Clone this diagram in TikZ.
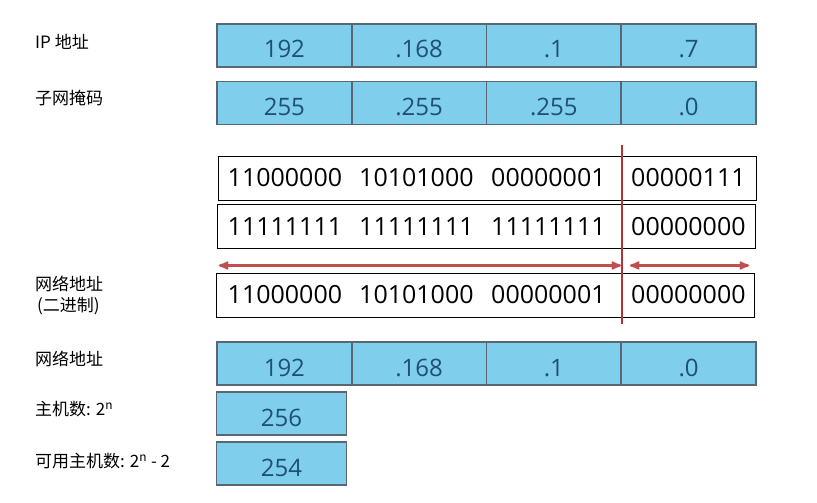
\documentclass[tikz,border=0pt]{standalone}
\usepackage{fontspec}
\setmainfont{Open Sans}
\newfontfamily\cjk{Noto Sans CJK SC}
\usepackage{xcolor}
\usepackage{tikz}
\usetikzlibrary{arrows}
\usetikzlibrary{positioning}

\definecolor{cellblue}{RGB}{126,206,236}
\definecolor{cellline}{RGB}{90,102,115}
\definecolor{celltext}{RGB}{31,78,121}
\definecolor{cutred}{RGB}{176,52,52}
\definecolor{spanred}{RGB}{192,80,77}

\begin{document}
\begin{tikzpicture}[x=1pt,y=-1pt,>=stealth',node distance=134.75pt]
 \tikzstyle{cell}=[draw=cellline, line width=1.6pt, fill=cellblue, text=celltext, minimum width=134.75pt, minimum height=43pt, inner sep=0pt, text height=25pt, text depth=0pt, font=\fontsize{24}{24}\selectfont]
 \tikzstyle{bits}=[draw, line width=0.9pt, minimum width=538pt, minimum height=44pt, inner sep=0pt]
 \tikzstyle{bin}=[anchor=west, inner sep=0pt, font=\fontsize{25}{25}\selectfont]
 \tikzstyle{lbl}=[anchor=west, inner sep=0pt, align=left, font=\cjk\fontsize{17}{21}\selectfont]
 \useasboundingbox (0,0) rectangle (817,503);
 % labels
 \node[lbl] (l ip)   at (35,42)  {IP 地址};
 \node[lbl] (l mask) at (35,98)  {子网掩码};
 \node[lbl] (l bin)  at (35,295) {网络地址\\\hspace{2pt}(二进制)};
 \node[lbl] (l net)  at (35,359) {网络地址};
 \node[lbl] (l host) at (35,409) {主机数: 2\textsuperscript{n}};
 \node[lbl] (l use)  at (35,461) {可用主机数: 2\textsuperscript{n} - 2};
 % ip address
 \node[cell] (ip1) at (284.375,45.5) {192};
 \node[cell] (ip2) [right of=ip1] {.168};
 \node[cell] (ip3) [right of=ip2] {.1};
 \node[cell] (ip4) [right of=ip3] {.7};
 % subnet mask
 \node[cell] (mk1) at (284.375,103) {255};
 \node[cell] (mk2) [right of=mk1] {.255};
 \node[cell] (mk3) [right of=mk2] {.255};
 \node[cell] (mk4) [right of=mk3] {.0};
 % binary rows
 \node[bits] (bip)  at (487,178)   {};
 \node[bits] (bmk)  at (486.5,226.5) {};
 \node[bits] (bnet) at (485.5,295) {};
 \node[bin] (bip1) at (227.5,178) {11000000};
 \node[bin] (bip2) at (359,178)   {10101000};
 \node[bin] (bip3) at (491,178)   {00000001};
 \node[bin] (bip4) at (631,178)   {00000111};
 \node[bin] (bmk1) at (227.5,226.5) {11111111};
 \node[bin] (bmk2) at (359,226.5)   {11111111};
 \node[bin] (bmk3) at (491,226.5)   {11111111};
 \node[bin] (bmk4) at (631,226.5)   {00000000};
 \node[bin] (bnet1) at (227.5,295) {11000000};
 \node[bin] (bnet2) at (359,295)   {10101000};
 \node[bin] (bnet3) at (491,295)   {00000001};
 \node[bin] (bnet4) at (631,295)   {00000000};
 % network address
 \node[cell] (nt1) at (284.375,363.5) {192};
 \node[cell] (nt2) [right of=nt1] {.168};
 \node[cell] (nt3) [right of=nt2] {.1};
 \node[cell] (nt4) [right of=nt3] {.0};
 % hosts
 \node[cell, minimum width=130pt] (hs) at (281.5,413.5) {256};
 \node[cell, minimum width=130pt] (us) at (281.5,463.5) {254};
 % split
 \coordinate (cut top) at (622,145);
 \coordinate (cut bot) at (622,324);
 \coordinate (net l) at (219,265.5);
 \coordinate (net r) at (621,265.5);
 \coordinate (host l) at (630,265.5);
 \coordinate (host r) at (749,265.5);
 \draw[cutred, line width=1.8pt] (cut top) -- (cut bot);
 \path[<->, spanred, line width=2.2pt]
 (net l) edge (net r)
 (host l) edge (host r);
\end{tikzpicture}
\end{document}
